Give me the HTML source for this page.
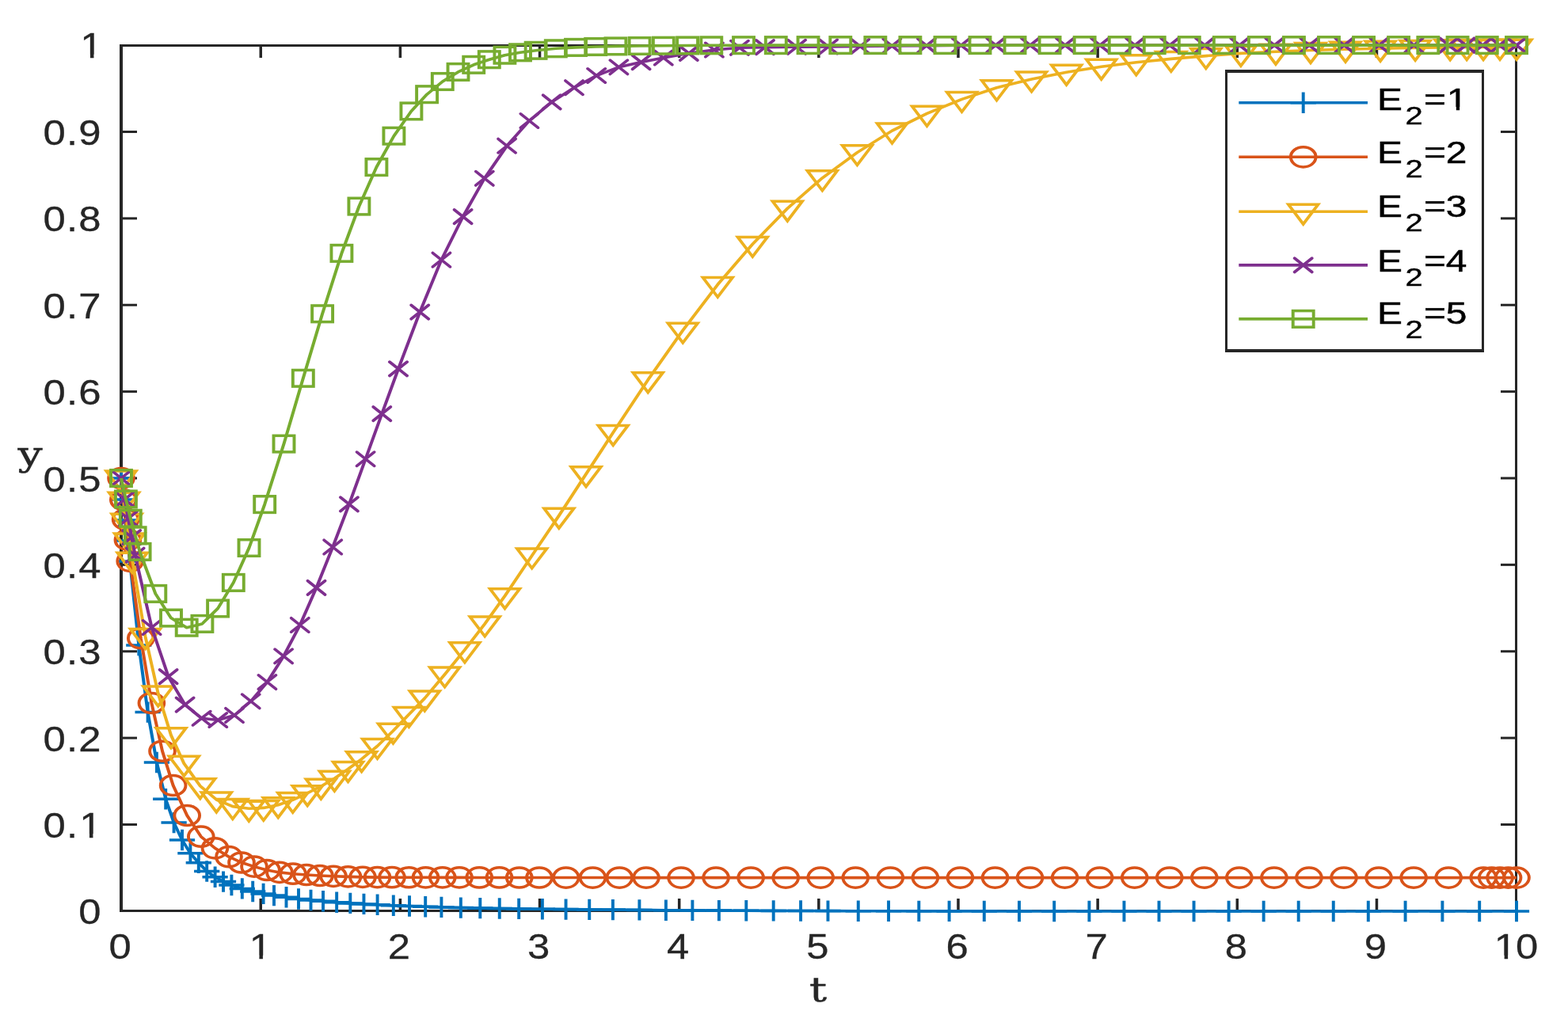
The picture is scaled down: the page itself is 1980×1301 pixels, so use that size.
<!DOCTYPE html>
<html lang="en">
<head>
<meta charset="utf-8">
<title>Evolution of y over t for different E2</title>
<style>
html,body{margin:0;padding:0;background:#fff;}
body{width:1980px;height:1301px;overflow:hidden;}
svg{display:block;}
.tk{font-family:"Liberation Sans",sans-serif;font-size:43.6px;fill:#262626;stroke:#262626;stroke-width:0.3px;}
.lb{font-family:"DejaVu Serif","Liberation Serif",serif;font-size:43px;fill:#262626;stroke:#262626;stroke-width:0.5px;}
.lg{font-family:"Liberation Sans",sans-serif;font-size:38.6px;fill:#000;stroke:#000;stroke-width:0.45px;}
.sub{font-size:32.2px;}
</style>
</head>
<body>
<svg width="1980" height="1301" viewBox="0 0 1980 1301">
<defs>
<path id="mb" d="M-14.4 0H14.4M0 -13.2V13.2" fill="none" stroke="#0072BD" stroke-width="3.5"/>
<ellipse id="mo" rx="14.17" ry="12.6" fill="none" stroke="#D95319" stroke-width="3.5"/>
<path id="my" d="M-16.76 -9H16.76L0 15.8Z" fill="none" stroke="#EDB120" stroke-width="3.5"/>
<path id="mp" d="M-9.84 -8.75L9.84 8.75M-9.84 8.75L9.84 -8.75" fill="none" stroke-linecap="round" stroke="#7E2F8E" stroke-width="3.5"/>
<rect id="mg" x="-11.59" y="-10.3" width="23.18" height="20.6" fill="none" stroke="#77AC30" stroke-width="3.5"/>
<clipPath id="c0"><path clip-rule="evenodd" d="M-300 -100H300V100H-300ZM-9.12 -4.53H-0.29V8.72H-9.12ZM3.57 -4.53H12.17V8.72H3.57Z"/></clipPath>
<clipPath id="c1"><path clip-rule="evenodd" d="M-300 -100H300V100H-300ZM-21.25 -4.53H-12.41V8.72H-21.25ZM-8.56 -4.53H0.04V8.72H-8.56Z"/></clipPath>
<clipPath id="c2"><path clip-rule="evenodd" d="M-300 -100H300V100H-300ZM-21.25 -4.53H-12.41V8.72H-21.25ZM-8.56 -4.53H0.04V8.72H-8.56Z"/></clipPath>
<clipPath id="c3"><path clip-rule="evenodd" d="M-300 -100H300V100H-300ZM-21.25 -4.53H-12.41V8.72H-21.25ZM-8.56 -4.53H0.04V8.72H-8.56Z"/></clipPath>
<clipPath id="c4"><path clip-rule="evenodd" d="M-300 -100H300V100H-300ZM72.65 -4.01H80.47V7.72H72.65ZM83.89 -4.01H91.5V7.72H83.89Z"/></clipPath>
</defs>
<rect width="1980" height="1301" fill="#fff"/>
<g id="axes">
<rect x="151" y="56" width="1765" height="3" fill="#262626"/>
<rect x="151" y="1149" width="1765" height="3" fill="#262626"/>
<rect x="151" y="56" width="4" height="1096" fill="#262626"/>
<rect x="1913" y="56" width="3" height="1096" fill="#262626"/>
<rect x="327.5" y="1135" width="3.5" height="14" fill="#262626"/>
<rect x="327.5" y="59" width="3.5" height="14" fill="#262626"/>
<rect x="503.65" y="1135" width="3.5" height="14" fill="#262626"/>
<rect x="503.65" y="59" width="3.5" height="14" fill="#262626"/>
<rect x="679.8" y="1135" width="3.5" height="14" fill="#262626"/>
<rect x="679.8" y="59" width="3.5" height="14" fill="#262626"/>
<rect x="855.95" y="1135" width="3.5" height="14" fill="#262626"/>
<rect x="855.95" y="59" width="3.5" height="14" fill="#262626"/>
<rect x="1032.1" y="1135" width="3.5" height="14" fill="#262626"/>
<rect x="1032.1" y="59" width="3.5" height="14" fill="#262626"/>
<rect x="1208.25" y="1135" width="3.5" height="14" fill="#262626"/>
<rect x="1208.25" y="59" width="3.5" height="14" fill="#262626"/>
<rect x="1384.4" y="1135" width="3.5" height="14" fill="#262626"/>
<rect x="1384.4" y="59" width="3.5" height="14" fill="#262626"/>
<rect x="1560.55" y="1135" width="3.5" height="14" fill="#262626"/>
<rect x="1560.55" y="59" width="3.5" height="14" fill="#262626"/>
<rect x="1736.7" y="1135" width="3.5" height="14" fill="#262626"/>
<rect x="1736.7" y="59" width="3.5" height="14" fill="#262626"/>
<rect x="155" y="1040" width="18" height="3" fill="#262626"/>
<rect x="1895" y="1040" width="18" height="3" fill="#262626"/>
<rect x="155" y="930.62" width="18" height="3" fill="#262626"/>
<rect x="1895" y="930.62" width="18" height="3" fill="#262626"/>
<rect x="155" y="821.25" width="18" height="3" fill="#262626"/>
<rect x="1895" y="821.25" width="18" height="3" fill="#262626"/>
<rect x="155" y="711.88" width="18" height="3" fill="#262626"/>
<rect x="1895" y="711.88" width="18" height="3" fill="#262626"/>
<rect x="155" y="602.5" width="18" height="3" fill="#262626"/>
<rect x="1895" y="602.5" width="18" height="3" fill="#262626"/>
<rect x="155" y="493.12" width="18" height="3" fill="#262626"/>
<rect x="1895" y="493.12" width="18" height="3" fill="#262626"/>
<rect x="155" y="383.75" width="18" height="3" fill="#262626"/>
<rect x="1895" y="383.75" width="18" height="3" fill="#262626"/>
<rect x="155" y="274.38" width="18" height="3" fill="#262626"/>
<rect x="1895" y="274.38" width="18" height="3" fill="#262626"/>
<rect x="155" y="165" width="18" height="3" fill="#262626"/>
<rect x="1895" y="165" width="18" height="3" fill="#262626"/>
</g>
<g id="ticklabels">
<text class="tk" transform="translate(151.6,1211.2) scale(1.165,1)" x="-12.12">0</text>
<text class="tk" clip-path="url(#c0)" transform="translate(327.75,1211.2) scale(1.165,1)" x="-11.25">1</text>
<text class="tk" transform="translate(503.9,1211.2) scale(1.165,1)" x="-12.12">2</text>
<text class="tk" transform="translate(680.05,1211.2) scale(1.165,1)" x="-12.12">3</text>
<text class="tk" transform="translate(856.2,1211.2) scale(1.165,1)" x="-12.12">4</text>
<text class="tk" transform="translate(1032.35,1211.2) scale(1.165,1)" x="-12.12">5</text>
<text class="tk" transform="translate(1208.5,1211.2) scale(1.165,1)" x="-12.12">6</text>
<text class="tk" transform="translate(1384.65,1211.2) scale(1.165,1)" x="-12.12">7</text>
<text class="tk" transform="translate(1560.8,1211.2) scale(1.165,1)" x="-12.12">8</text>
<text class="tk" transform="translate(1736.95,1211.2) scale(1.165,1)" x="-12.12">9</text>
<text class="tk" clip-path="url(#c1)" transform="translate(1914.1,1211.2) scale(1.165,1)" x="-23.38 0">10</text>
<text class="tk" transform="translate(127.4,1166.9) scale(1.165,1)" x="-24.25">0</text>
<text class="tk" clip-path="url(#c2)" transform="translate(127.4,1057.9) scale(1.165,1)" x="-62.61 -37.36 -23.38">0.1</text>
<text class="tk" transform="translate(127.4,948.9) scale(1.165,1)" x="-62.61 -37.36 -24.25">0.2</text>
<text class="tk" transform="translate(127.4,838.9) scale(1.165,1)" x="-62.61 -37.36 -24.25">0.3</text>
<text class="tk" transform="translate(127.4,729.9) scale(1.165,1)" x="-62.61 -37.36 -24.25">0.4</text>
<text class="tk" transform="translate(127.4,620.9) scale(1.165,1)" x="-62.61 -37.36 -24.25">0.5</text>
<text class="tk" transform="translate(127.4,510.9) scale(1.165,1)" x="-62.61 -37.36 -24.25">0.6</text>
<text class="tk" transform="translate(127.4,401.9) scale(1.165,1)" x="-62.61 -37.36 -24.25">0.7</text>
<text class="tk" transform="translate(127.4,291.9) scale(1.165,1)" x="-62.61 -37.36 -24.25">0.8</text>
<text class="tk" transform="translate(127.4,182.9) scale(1.165,1)" x="-62.61 -37.36 -24.25">0.9</text>
<text class="tk" clip-path="url(#c3)" transform="translate(128.4,73.4) scale(1.165,1)" x="-23.38">1</text>
<text class="lb" transform="translate(1021.9,1265.4) scale(1.28,1)" x="0">t</text>
<text class="lb" transform="translate(22.5,587.5) scale(1.28,1)" x="0">y</text>
</g>
<g id="curves" transform="scale(1.12,1)">
<polyline fill="none" stroke="#0072BD" stroke-width="3.6" stroke-linejoin="round" points="136.61,604 139.06,631 141.52,657 143.97,683 146.43,709 156.52,815 166.61,899.6 176.7,963 186.79,1009.2 196.07,1039.1 205.36,1061 214.64,1077.8 223.93,1089.8 233.21,1100.5 242.5,1107.8 251.79,1113.6 261.07,1118 273.04,1122.4 285,1126 296.96,1128.9 308.93,1131.1 322.77,1133.3 336.61,1135.5 350.45,1137 364.29,1138.3 379.6,1139.7 394.91,1140.9 410.22,1141.9 425.54,1142.8 443.57,1143.7 461.61,1144.5 479.64,1145.2 497.68,1145.9 519.51,1146.6 541.34,1147.1 563.17,1147.5 585,1147.9 611.5,1148.3 637.99,1148.6 664.49,1148.9 690.98,1149.1 720.89,1149.4 750.8,1149.7 780.71,1149.92 810.62,1150.1 841.34,1150.25 872.05,1150.39 902.77,1150.5 933.48,1150.6 967.66,1150.7 1001.83,1150.79 1036,1150.86 1070.18,1150.9 1109.64,1150.92 1149.11,1150.94 1188.57,1150.96 1228.04,1150.97 1267.37,1150.99 1306.7,1150.99 1346.03,1151 1385.36,1151 1424.69,1151 1464.02,1151 1503.35,1151 1542.68,1151 1584.46,1151 1626.25,1151 1668.04,1151 1709.82,1151"/>
<g>
<use href="#mb" x="136.61" y="604"/><use href="#mb" x="139.06" y="631"/><use href="#mb" x="141.52" y="657"/><use href="#mb" x="143.97" y="683"/>
<use href="#mb" x="146.43" y="709"/><use href="#mb" x="156.52" y="815"/><use href="#mb" x="166.61" y="899.6"/><use href="#mb" x="176.7" y="963"/>
<use href="#mb" x="186.79" y="1009.2"/><use href="#mb" x="196.07" y="1039.1"/><use href="#mb" x="205.36" y="1061"/><use href="#mb" x="214.64" y="1077.8"/>
<use href="#mb" x="223.93" y="1089.8"/><use href="#mb" x="233.21" y="1100.5"/><use href="#mb" x="242.5" y="1107.8"/><use href="#mb" x="251.79" y="1113.6"/>
<use href="#mb" x="261.07" y="1118"/><use href="#mb" x="273.04" y="1122.4"/><use href="#mb" x="285" y="1126"/><use href="#mb" x="296.96" y="1128.9"/>
<use href="#mb" x="308.93" y="1131.1"/><use href="#mb" x="322.77" y="1133.3"/><use href="#mb" x="336.61" y="1135.5"/><use href="#mb" x="350.45" y="1137"/>
<use href="#mb" x="364.29" y="1138.3"/><use href="#mb" x="379.6" y="1139.7"/><use href="#mb" x="394.91" y="1140.9"/><use href="#mb" x="410.22" y="1141.9"/>
<use href="#mb" x="425.54" y="1142.8"/><use href="#mb" x="443.57" y="1143.7"/><use href="#mb" x="461.61" y="1144.5"/><use href="#mb" x="479.64" y="1145.2"/>
<use href="#mb" x="497.68" y="1145.9"/><use href="#mb" x="519.51" y="1146.6"/><use href="#mb" x="541.34" y="1147.1"/><use href="#mb" x="563.17" y="1147.5"/>
<use href="#mb" x="585" y="1147.9"/><use href="#mb" x="611.5" y="1148.3"/><use href="#mb" x="637.99" y="1148.6"/><use href="#mb" x="664.49" y="1148.9"/>
<use href="#mb" x="690.98" y="1149.1"/><use href="#mb" x="720.89" y="1149.4"/><use href="#mb" x="750.8" y="1149.7"/><use href="#mb" x="780.71" y="1149.92"/>
<use href="#mb" x="810.62" y="1150.1"/><use href="#mb" x="841.34" y="1150.25"/><use href="#mb" x="872.05" y="1150.39"/><use href="#mb" x="902.77" y="1150.5"/>
<use href="#mb" x="933.48" y="1150.6"/><use href="#mb" x="967.66" y="1150.7"/><use href="#mb" x="1001.83" y="1150.79"/><use href="#mb" x="1036" y="1150.86"/>
<use href="#mb" x="1070.18" y="1150.9"/><use href="#mb" x="1109.64" y="1150.92"/><use href="#mb" x="1149.11" y="1150.94"/><use href="#mb" x="1188.57" y="1150.96"/>
<use href="#mb" x="1228.04" y="1150.97"/><use href="#mb" x="1267.37" y="1150.99"/><use href="#mb" x="1306.7" y="1150.99"/><use href="#mb" x="1346.03" y="1151"/>
<use href="#mb" x="1385.36" y="1151"/><use href="#mb" x="1424.69" y="1151"/><use href="#mb" x="1464.02" y="1151"/><use href="#mb" x="1503.35" y="1151"/>
<use href="#mb" x="1542.68" y="1151"/><use href="#mb" x="1584.46" y="1151"/><use href="#mb" x="1626.25" y="1151"/><use href="#mb" x="1668.04" y="1151"/>
<use href="#mb" x="1709.82" y="1151"/>
</g>
<polyline fill="none" stroke="#D95319" stroke-width="3.6" stroke-linejoin="round" points="136.61,604 139.11,631.3 141.61,656 144.11,681.9 146.61,708.8 158.75,806.25 170.89,887.98 183.04,948.73 195.18,992 210.89,1030 226.61,1056.7 242.32,1071.3 258.04,1082.2 272.32,1089.5 286.61,1094.6 300.89,1099 315.18,1101.9 330.36,1103.7 345.54,1105 360.71,1106 375.89,1106.8 392.41,1107.4 408.93,1107.9 425.45,1108.1 441.96,1108.2 460.94,1108.26 479.91,1108.3 498.88,1108.35 517.86,1108.4 540.4,1108.43 562.95,1108.46 585.49,1108.48 608.04,1108.5 638.17,1108.53 668.3,1108.56 698.44,1108.59 728.57,1108.6 767.9,1108.6 807.23,1108.6 846.56,1108.6 885.89,1108.6 925.22,1108.6 964.55,1108.6 1003.88,1108.6 1043.21,1108.6 1082.54,1108.6 1121.88,1108.6 1161.21,1108.6 1200.54,1108.6 1239.87,1108.6 1279.2,1108.6 1318.53,1108.6 1357.86,1108.6 1397.19,1108.6 1436.52,1108.6 1475.85,1108.6 1515.18,1108.6 1554.51,1108.6 1593.84,1108.6 1633.17,1108.6 1672.5,1108.6 1681.83,1108.6 1691.16,1108.6 1700.49,1108.6 1709.82,1108.6"/>
<g>
<use href="#mo" x="136.61" y="604"/><use href="#mo" x="139.11" y="631.3"/><use href="#mo" x="141.61" y="656"/><use href="#mo" x="144.11" y="681.9"/>
<use href="#mo" x="146.61" y="708.8"/><use href="#mo" x="158.75" y="806.25"/><use href="#mo" x="170.89" y="887.98"/><use href="#mo" x="183.04" y="948.73"/>
<use href="#mo" x="195.18" y="992"/><use href="#mo" x="210.89" y="1030"/><use href="#mo" x="226.61" y="1056.7"/><use href="#mo" x="242.32" y="1071.3"/>
<use href="#mo" x="258.04" y="1082.2"/><use href="#mo" x="272.32" y="1089.5"/><use href="#mo" x="286.61" y="1094.6"/><use href="#mo" x="300.89" y="1099"/>
<use href="#mo" x="315.18" y="1101.9"/><use href="#mo" x="330.36" y="1103.7"/><use href="#mo" x="345.54" y="1105"/><use href="#mo" x="360.71" y="1106"/>
<use href="#mo" x="375.89" y="1106.8"/><use href="#mo" x="392.41" y="1107.4"/><use href="#mo" x="408.93" y="1107.9"/><use href="#mo" x="425.45" y="1108.1"/>
<use href="#mo" x="441.96" y="1108.2"/><use href="#mo" x="460.94" y="1108.26"/><use href="#mo" x="479.91" y="1108.3"/><use href="#mo" x="498.88" y="1108.35"/>
<use href="#mo" x="517.86" y="1108.4"/><use href="#mo" x="540.4" y="1108.43"/><use href="#mo" x="562.95" y="1108.46"/><use href="#mo" x="585.49" y="1108.48"/>
<use href="#mo" x="608.04" y="1108.5"/><use href="#mo" x="638.17" y="1108.53"/><use href="#mo" x="668.3" y="1108.56"/><use href="#mo" x="698.44" y="1108.59"/>
<use href="#mo" x="728.57" y="1108.6"/><use href="#mo" x="767.9" y="1108.6"/><use href="#mo" x="807.23" y="1108.6"/><use href="#mo" x="846.56" y="1108.6"/>
<use href="#mo" x="885.89" y="1108.6"/><use href="#mo" x="925.22" y="1108.6"/><use href="#mo" x="964.55" y="1108.6"/><use href="#mo" x="1003.88" y="1108.6"/>
<use href="#mo" x="1043.21" y="1108.6"/><use href="#mo" x="1082.54" y="1108.6"/><use href="#mo" x="1121.88" y="1108.6"/><use href="#mo" x="1161.21" y="1108.6"/>
<use href="#mo" x="1200.54" y="1108.6"/><use href="#mo" x="1239.87" y="1108.6"/><use href="#mo" x="1279.2" y="1108.6"/><use href="#mo" x="1318.53" y="1108.6"/>
<use href="#mo" x="1357.86" y="1108.6"/><use href="#mo" x="1397.19" y="1108.6"/><use href="#mo" x="1436.52" y="1108.6"/><use href="#mo" x="1475.85" y="1108.6"/>
<use href="#mo" x="1515.18" y="1108.6"/><use href="#mo" x="1554.51" y="1108.6"/><use href="#mo" x="1593.84" y="1108.6"/><use href="#mo" x="1633.17" y="1108.6"/>
<use href="#mo" x="1672.5" y="1108.6"/><use href="#mo" x="1681.83" y="1108.6"/><use href="#mo" x="1691.16" y="1108.6"/><use href="#mo" x="1700.49" y="1108.6"/>
<use href="#mo" x="1709.82" y="1108.6"/>
</g>
<polyline fill="none" stroke="#EDB120" stroke-width="3.6" stroke-linejoin="round" points="136.61,604 139.75,631.29 142.9,658.37 146.05,683.03 149.2,707.2 163.75,803.5 178.3,876 192.86,928.8 207.41,964.3 225.71,992.7 244.02,1010 262.32,1018.6 280.62,1021.2 297.12,1020.41 313.62,1016.71 330.11,1010.43 346.61,1001.8 361.88,993.3 377.14,983.2 392.41,971.5 407.68,958.8 425.47,942.38 443.26,923.15 461.05,902.42 478.84,882 501.43,851.94 524.02,820.81 546.61,787.91 569.2,752.7 599.71,701.89 630.22,651.23 660.74,598.77 691.25,546.46 730.56,479.8 769.87,417.18 809.17,359.4 848.48,308.43 887.81,263.23 927.14,224.82 966.47,192.64 1005.8,165.12 1045.11,143.33 1084.42,125.42 1123.73,110.81 1163.04,99.9 1202.37,91.21 1241.7,84.3 1281.03,78.81 1320.36,74.4 1359.69,70.6 1399.02,67.4 1438.35,65.2 1477.68,63.5 1517.01,62.2 1556.34,61.2 1595.67,60.4 1635,59.8 1653.71,59.62 1672.41,59.47 1691.12,59.34 1709.82,59.2"/>
<g>
<use href="#my" x="136.61" y="604"/><use href="#my" x="139.75" y="631.29"/><use href="#my" x="142.9" y="658.37"/><use href="#my" x="146.05" y="683.03"/>
<use href="#my" x="149.2" y="707.2"/><use href="#my" x="163.75" y="803.5"/><use href="#my" x="178.3" y="876"/><use href="#my" x="192.86" y="928.8"/>
<use href="#my" x="207.41" y="964.3"/><use href="#my" x="225.71" y="992.7"/><use href="#my" x="244.02" y="1010"/><use href="#my" x="262.32" y="1018.6"/>
<use href="#my" x="280.62" y="1021.2"/><use href="#my" x="297.12" y="1020.41"/><use href="#my" x="313.62" y="1016.71"/><use href="#my" x="330.11" y="1010.43"/>
<use href="#my" x="346.61" y="1001.8"/><use href="#my" x="361.88" y="993.3"/><use href="#my" x="377.14" y="983.2"/><use href="#my" x="392.41" y="971.5"/>
<use href="#my" x="407.68" y="958.8"/><use href="#my" x="425.47" y="942.38"/><use href="#my" x="443.26" y="923.15"/><use href="#my" x="461.05" y="902.42"/>
<use href="#my" x="478.84" y="882"/><use href="#my" x="501.43" y="851.94"/><use href="#my" x="524.02" y="820.81"/><use href="#my" x="546.61" y="787.91"/>
<use href="#my" x="569.2" y="752.7"/><use href="#my" x="599.71" y="701.89"/><use href="#my" x="630.22" y="651.23"/><use href="#my" x="660.74" y="598.77"/>
<use href="#my" x="691.25" y="546.46"/><use href="#my" x="730.56" y="479.8"/><use href="#my" x="769.87" y="417.18"/><use href="#my" x="809.17" y="359.4"/>
<use href="#my" x="848.48" y="308.43"/><use href="#my" x="887.81" y="263.23"/><use href="#my" x="927.14" y="224.82"/><use href="#my" x="966.47" y="192.64"/>
<use href="#my" x="1005.8" y="165.12"/><use href="#my" x="1045.11" y="143.33"/><use href="#my" x="1084.42" y="125.42"/><use href="#my" x="1123.73" y="110.81"/>
<use href="#my" x="1163.04" y="99.9"/><use href="#my" x="1202.37" y="91.21"/><use href="#my" x="1241.7" y="84.3"/><use href="#my" x="1281.03" y="78.81"/>
<use href="#my" x="1320.36" y="74.4"/><use href="#my" x="1359.69" y="70.6"/><use href="#my" x="1399.02" y="67.4"/><use href="#my" x="1438.35" y="65.2"/>
<use href="#my" x="1477.68" y="63.5"/><use href="#my" x="1517.01" y="62.2"/><use href="#my" x="1556.34" y="61.2"/><use href="#my" x="1595.67" y="60.4"/>
<use href="#my" x="1635" y="59.8"/><use href="#my" x="1653.71" y="59.62"/><use href="#my" x="1672.41" y="59.47"/><use href="#my" x="1691.12" y="59.34"/>
<use href="#my" x="1709.82" y="59.2"/>
</g>
<polyline fill="none" stroke="#7E2F8E" stroke-width="3.6" stroke-linejoin="round" points="136.61,604 140.54,630.7 144.46,655 148.39,678.6 152.32,701.2 171.07,792.5 189.82,854.59 208.57,890.08 227.32,907.24 245.8,909.5 264.29,903.47 282.77,885.81 301.25,861.56 319.73,828.81 338.21,789.47 356.7,742.41 375.18,690.97 393.66,636.89 412.14,579.74 430.62,522.57 449.11,465.84 473.39,394.08 497.68,328.22 521.96,273.62 546.25,225.3 571.52,184.2 596.79,152.5 622.05,128.9 647.32,110.7 672.5,95.5 697.68,84.8 722.86,78.6 748.04,73 776.65,67.32 805.27,63.01 833.88,60.3 862.5,59.6 898.28,59.3 934.06,59 969.84,58.5 1005.62,58 1044.6,57.6 1083.57,57.3 1122.54,57.16 1161.52,57.1 1200.85,57.1 1240.18,57.1 1279.51,57.1 1318.84,57.1 1358.17,57.1 1397.5,57.1 1436.83,57.1 1476.16,57.1 1515.49,57.1 1554.82,57.1 1594.15,57.1 1633.48,57.1 1652.57,57.1 1671.65,57.1 1690.74,57.1 1709.82,57.1"/>
<g>
<use href="#mp" x="136.61" y="604"/><use href="#mp" x="140.54" y="630.7"/><use href="#mp" x="144.46" y="655"/><use href="#mp" x="148.39" y="678.6"/>
<use href="#mp" x="152.32" y="701.2"/><use href="#mp" x="171.07" y="792.5"/><use href="#mp" x="189.82" y="854.59"/><use href="#mp" x="208.57" y="890.08"/>
<use href="#mp" x="227.32" y="907.24"/><use href="#mp" x="245.8" y="909.5"/><use href="#mp" x="264.29" y="903.47"/><use href="#mp" x="282.77" y="885.81"/>
<use href="#mp" x="301.25" y="861.56"/><use href="#mp" x="319.73" y="828.81"/><use href="#mp" x="338.21" y="789.47"/><use href="#mp" x="356.7" y="742.41"/>
<use href="#mp" x="375.18" y="690.97"/><use href="#mp" x="393.66" y="636.89"/><use href="#mp" x="412.14" y="579.74"/><use href="#mp" x="430.62" y="522.57"/>
<use href="#mp" x="449.11" y="465.84"/><use href="#mp" x="473.39" y="394.08"/><use href="#mp" x="497.68" y="328.22"/><use href="#mp" x="521.96" y="273.62"/>
<use href="#mp" x="546.25" y="225.3"/><use href="#mp" x="571.52" y="184.2"/><use href="#mp" x="596.79" y="152.5"/><use href="#mp" x="622.05" y="128.9"/>
<use href="#mp" x="647.32" y="110.7"/><use href="#mp" x="672.5" y="95.5"/><use href="#mp" x="697.68" y="84.8"/><use href="#mp" x="722.86" y="78.6"/>
<use href="#mp" x="748.04" y="73"/><use href="#mp" x="776.65" y="67.32"/><use href="#mp" x="805.27" y="63.01"/><use href="#mp" x="833.88" y="60.3"/>
<use href="#mp" x="862.5" y="59.6"/><use href="#mp" x="898.28" y="59.3"/><use href="#mp" x="934.06" y="59"/><use href="#mp" x="969.84" y="58.5"/>
<use href="#mp" x="1005.62" y="58"/><use href="#mp" x="1044.6" y="57.6"/><use href="#mp" x="1083.57" y="57.3"/><use href="#mp" x="1122.54" y="57.16"/>
<use href="#mp" x="1161.52" y="57.1"/><use href="#mp" x="1200.85" y="57.1"/><use href="#mp" x="1240.18" y="57.1"/><use href="#mp" x="1279.51" y="57.1"/>
<use href="#mp" x="1318.84" y="57.1"/><use href="#mp" x="1358.17" y="57.1"/><use href="#mp" x="1397.5" y="57.1"/><use href="#mp" x="1436.83" y="57.1"/>
<use href="#mp" x="1476.16" y="57.1"/><use href="#mp" x="1515.49" y="57.1"/><use href="#mp" x="1554.82" y="57.1"/><use href="#mp" x="1594.15" y="57.1"/>
<use href="#mp" x="1633.48" y="57.1"/><use href="#mp" x="1652.57" y="57.1"/><use href="#mp" x="1671.65" y="57.1"/><use href="#mp" x="1690.74" y="57.1"/>
<use href="#mp" x="1709.82" y="57.1"/>
</g>
<polyline fill="none" stroke="#77AC30" stroke-width="3.6" stroke-linejoin="round" points="136.61,604 141.88,630.5 147.14,654.8 152.41,676.3 157.68,696.9 175.27,749.9 192.86,780.6 210.45,792.7 228.04,787.9 245.62,768.5 263.21,735.9 280.8,692 298.39,637.1 320.09,560.6 341.79,477.8 363.48,396.3 385.18,319.9 404.82,260.6 424.46,211.1 444.11,171.7 463.75,140.4 481.34,119.2 498.93,103 516.52,90.9 534.11,81.8 551.61,75.2 569.11,69.7 586.61,66.3 604.11,63.8 626.61,61.3 649.11,59.9 671.61,59 694.11,58.4 721.09,57.99 748.08,57.7 775.07,57.45 802.05,57.3 838.44,57.21 874.82,57.15 911.21,57.11 947.59,57.1 986.92,57.1 1026.25,57.1 1065.58,57.1 1104.91,57.1 1144.24,57.1 1183.57,57.1 1222.9,57.1 1262.23,57.1 1301.56,57.1 1340.89,57.1 1380.22,57.1 1419.55,57.1 1458.88,57.1 1498.21,57.1 1537.54,57.1 1576.87,57.1 1610.11,57.1 1643.35,57.1 1676.58,57.1 1709.82,57.1"/>
<g>
<use href="#mg" x="136.61" y="604"/><use href="#mg" x="141.88" y="630.5"/><use href="#mg" x="147.14" y="654.8"/><use href="#mg" x="152.41" y="676.3"/>
<use href="#mg" x="157.68" y="696.9"/><use href="#mg" x="175.27" y="749.9"/><use href="#mg" x="192.86" y="780.6"/><use href="#mg" x="210.45" y="792.7"/>
<use href="#mg" x="228.04" y="787.9"/><use href="#mg" x="245.62" y="768.5"/><use href="#mg" x="263.21" y="735.9"/><use href="#mg" x="280.8" y="692"/>
<use href="#mg" x="298.39" y="637.1"/><use href="#mg" x="320.09" y="560.6"/><use href="#mg" x="341.79" y="477.8"/><use href="#mg" x="363.48" y="396.3"/>
<use href="#mg" x="385.18" y="319.9"/><use href="#mg" x="404.82" y="260.6"/><use href="#mg" x="424.46" y="211.1"/><use href="#mg" x="444.11" y="171.7"/>
<use href="#mg" x="463.75" y="140.4"/><use href="#mg" x="481.34" y="119.2"/><use href="#mg" x="498.93" y="103"/><use href="#mg" x="516.52" y="90.9"/>
<use href="#mg" x="534.11" y="81.8"/><use href="#mg" x="551.61" y="75.2"/><use href="#mg" x="569.11" y="69.7"/><use href="#mg" x="586.61" y="66.3"/>
<use href="#mg" x="604.11" y="63.8"/><use href="#mg" x="626.61" y="61.3"/><use href="#mg" x="649.11" y="59.9"/><use href="#mg" x="671.61" y="59"/>
<use href="#mg" x="694.11" y="58.4"/><use href="#mg" x="721.09" y="57.99"/><use href="#mg" x="748.08" y="57.7"/><use href="#mg" x="775.07" y="57.45"/>
<use href="#mg" x="802.05" y="57.3"/><use href="#mg" x="838.44" y="57.21"/><use href="#mg" x="874.82" y="57.15"/><use href="#mg" x="911.21" y="57.11"/>
<use href="#mg" x="947.59" y="57.1"/><use href="#mg" x="986.92" y="57.1"/><use href="#mg" x="1026.25" y="57.1"/><use href="#mg" x="1065.58" y="57.1"/>
<use href="#mg" x="1104.91" y="57.1"/><use href="#mg" x="1144.24" y="57.1"/><use href="#mg" x="1183.57" y="57.1"/><use href="#mg" x="1222.9" y="57.1"/>
<use href="#mg" x="1262.23" y="57.1"/><use href="#mg" x="1301.56" y="57.1"/><use href="#mg" x="1340.89" y="57.1"/><use href="#mg" x="1380.22" y="57.1"/>
<use href="#mg" x="1419.55" y="57.1"/><use href="#mg" x="1458.88" y="57.1"/><use href="#mg" x="1498.21" y="57.1"/><use href="#mg" x="1537.54" y="57.1"/>
<use href="#mg" x="1576.87" y="57.1"/><use href="#mg" x="1610.11" y="57.1"/><use href="#mg" x="1643.35" y="57.1"/><use href="#mg" x="1676.58" y="57.1"/>
<use href="#mg" x="1709.82" y="57.1"/>
</g>
</g>
<g id="legendbox">
<rect x="1547" y="88" width="327" height="357" fill="#262626"/>
<rect x="1550" y="92" width="321" height="349" fill="#fff"/>
</g>
<g id="legendkeys" transform="scale(1.12,1)">
<path d="M1396.7 129.8H1541.96" fill="none" stroke="#0072BD" stroke-width="3.6"/><use href="#mb" x="1469.38" y="129.8"/>
<path d="M1396.7 198.3H1541.96" fill="none" stroke="#D95319" stroke-width="3.6"/><use href="#mo" x="1469.38" y="198.3"/>
<path d="M1396.7 267.2H1541.96" fill="none" stroke="#EDB120" stroke-width="3.6"/><use href="#my" x="1469.38" y="267.2"/>
<path d="M1396.7 334.9H1541.96" fill="none" stroke="#7E2F8E" stroke-width="3.6"/><use href="#mp" x="1469.38" y="334.9"/>
<path d="M1396.7 402.9H1541.96" fill="none" stroke="#77AC30" stroke-width="3.6"/><use href="#mg" x="1469.38" y="402.9"/>
</g>
<g id="legendtext">
<text class="lg" clip-path="url(#c4)" transform="translate(1739,139) scale(1.241,1)"><tspan x="0">E</tspan><tspan class="sub" x="28.55" dy="18">2</tspan><tspan x="47.45 70.77" dy="-18">=1</tspan></text>
<text class="lg" transform="translate(1739,206) scale(1.241,1)"><tspan x="0">E</tspan><tspan class="sub" x="28.55" dy="18">2</tspan><tspan x="47.45 70" dy="-18">=2</tspan></text>
<text class="lg" transform="translate(1739,274) scale(1.241,1)"><tspan x="0">E</tspan><tspan class="sub" x="28.55" dy="18">2</tspan><tspan x="47.45 70" dy="-18">=3</tspan></text>
<text class="lg" transform="translate(1739,343) scale(1.241,1)"><tspan x="0">E</tspan><tspan class="sub" x="28.55" dy="18">2</tspan><tspan x="47.45 70" dy="-18">=4</tspan></text>
<text class="lg" transform="translate(1739,409) scale(1.241,1)"><tspan x="0">E</tspan><tspan class="sub" x="28.55" dy="18">2</tspan><tspan x="47.45 70" dy="-18">=5</tspan></text>
</g>
</svg>
</body>
</html>
